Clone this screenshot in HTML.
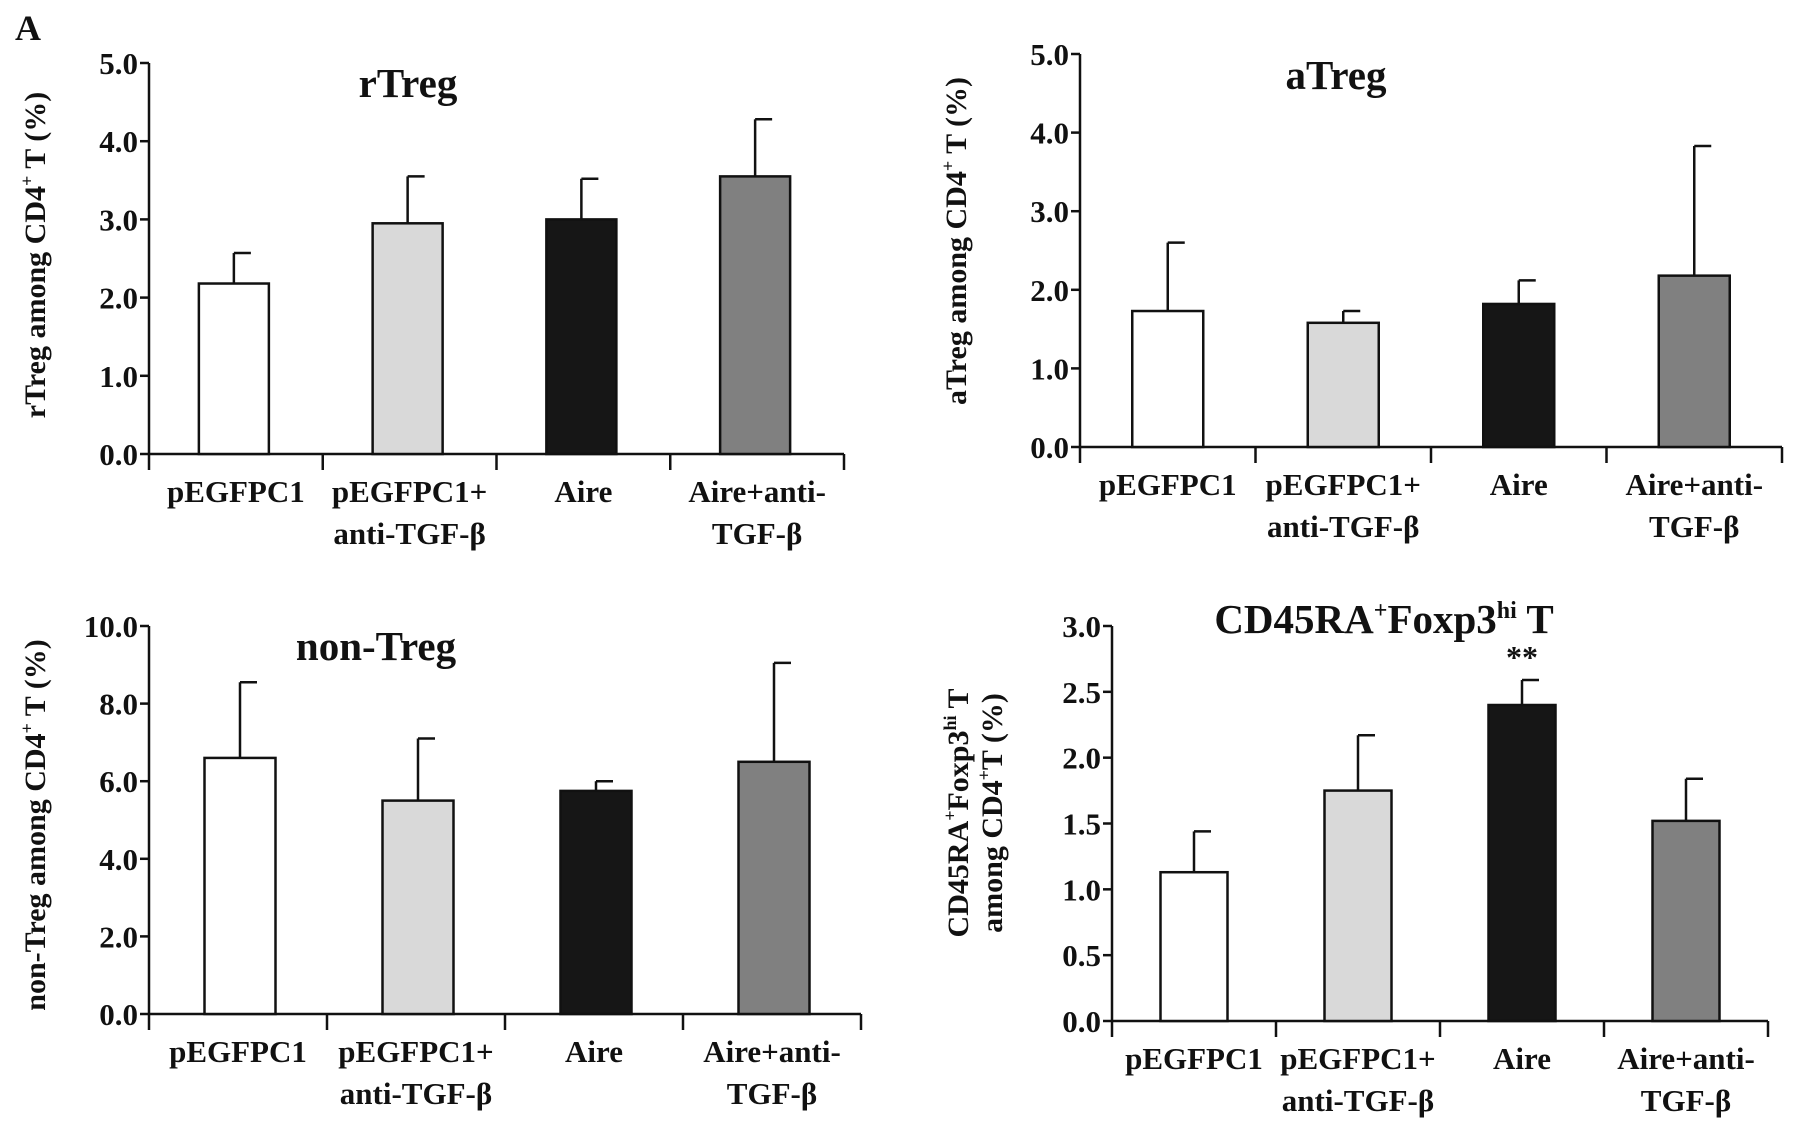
<!DOCTYPE html>
<html><head><meta charset="utf-8"><style>
body{margin:0;background:#fff}
svg{display:block}
text{font-family:"Liberation Serif",serif;font-weight:bold;fill:#111}
</style></head><body>
<svg id="fig" width="1795" height="1121" viewBox="0 0 1795 1121">
<text x="15" y="40" font-size="36">A</text>
</svg>
<script>
const categories=[["pEGFPC1"],["pEGFPC1+","anti-TGF-β"],["Aire"],["Aire+anti-","TGF-β"]];
const fills=["#ffffff","#d9d9d9","#161616","#808080"];
const rtregValues=[2.18,2.95,3.0,3.55];
const rtregErrors=[0.39,0.6,0.52,0.73];
const atregValues=[1.73,1.58,1.82,2.18];
const atregErrors=[0.87,0.15,0.3,1.65];
const nontregValues=[6.6,5.5,5.75,6.5];
const nontregErrors=[1.95,1.6,0.25,2.55];
const cd45Values=[1.13,1.75,2.4,1.52];
const cd45Errors=[0.31,0.42,0.19,0.32];
const rtregTicks=["0.0","1.0","2.0","3.0","4.0","5.0"];
const nontregTicks=["0.0","2.0","4.0","6.0","8.0","10.0"];
const cd45Ticks=["0.0","0.5","1.0","1.5","2.0","2.5","3.0"];

const svg=document.getElementById('fig');
const NS="http://www.w3.org/2000/svg";
function mk(tag,attrs,parent){const e=document.createElementNS(NS,tag);for(const k in attrs)e.setAttribute(k,attrs[k]);(parent||svg).appendChild(e);return e;}

function panel(p){
  const g=mk('g',{});
  
  
  const ticks=p.ticks.map(Number);
  const ymax=ticks[ticks.length-1];
  const y=v=>p.bottom-(v/ymax)*(p.bottom-p.top);
  const bw=(p.right-p.left)/categories.length;
  const xc=i=>p.left+bw*(i+0.5);
  const ya=mk('line',{x1:p.left,y1:p.top,x2:p.left,y2:p.bottom+1,stroke:'#111','stroke-width':2.5},g);
  
  
  p.ticks.forEach(t=>{
    mk('line',{x1:p.left-9,y1:y(+t),x2:p.left,y2:y(+t),stroke:'#111','stroke-width':2.5},g);
    const tl=mk('text',{x:p.left-11,y:y(+t)+11,'font-size':31,'text-anchor':'end'},g);
    tl.textContent=t;
    
    
  });
  const xa=mk('line',{x1:p.left,y1:p.bottom,x2:p.right,y2:p.bottom,stroke:'#111','stroke-width':2.5},g);
  
  
  for(let i=0;i<=categories.length;i++){
    mk('line',{x1:p.left+bw*i,y1:p.bottom,x2:p.left+bw*i,y2:p.bottom+16,stroke:'#111','stroke-width':2.5},g);
  }
  p.values.forEach((v,i)=>{
    const cx=xc(i)+p.shift;
    const er=mk('line',{x1:cx,y1:y(v),x2:cx,y2:y(v+p.errors[i]),stroke:'#111','stroke-width':2.5},g);
    
    
    mk('line',{x1:cx,y1:y(v+p.errors[i]),x2:cx+17,y2:y(v+p.errors[i]),stroke:'#111','stroke-width':2.5},g);
    const r=mk('rect',{x:cx-p.barW/2,y:y(v),width:p.barW,height:p.bottom-y(v),fill:fills[i],stroke:'#111','stroke-width':2.5},g);
    
    
    categories[i].forEach((ln,j)=>{
      const t=mk('text',{x:xc(i)+p.labShift,y:p.bottom+48+j*42,'font-size':31,'text-anchor':'middle'},g);
      t.textContent=ln;
      
      
    });
  });
  const ti=mk('text',{x:p.titleX,y:p.titleY,'font-size':41,'text-anchor':'middle'},g);
  ti.innerHTML=p.title;
  
  
  p.ylab.forEach((ln,j)=>{
    const yl=mk('text',{x:0,y:0,'font-size':30,'text-anchor':'middle',transform:`translate(${p.ylabX+j*34},${p.ylabY}) rotate(-90)`},g);
    yl.innerHTML=ln;
    
    
  });
  return {g,y,xc};
}
const sup=s=>`<tspan font-size="18" dy="-12">${s}</tspan><tspan dy="12">`;
panel({name:'rtreg',left:149,right:844,top:63,bottom:454,ticks:rtregTicks,values:rtregValues,errors:rtregErrors,barW:70,shift:-2,labShift:0,
  title:'rTreg',titleX:408,titleY:97,ylab:['rTreg among CD4'+sup('+')+' T (%)</tspan>'],ylabX:45,ylabY:255});
panel({name:'atreg',left:1080,right:1782,top:54,bottom:447,ticks:rtregTicks,values:atregValues,errors:atregErrors,barW:71,shift:0,labShift:0,
  title:'aTreg',titleX:1336,titleY:89,ylab:['aTreg among CD4'+sup('+')+' T  (%)</tspan>'],ylabX:966,ylabY:241});
panel({name:'nontreg',left:149,right:861,top:626,bottom:1014,ticks:nontregTicks,values:nontregValues,errors:nontregErrors,barW:71,shift:2,labShift:0,
  title:'non-Treg',titleX:376,titleY:660,ylab:['non-Treg among CD4'+sup('+')+' T (%)</tspan>'],ylabX:45,ylabY:825});
const p4=panel({name:'cd45',left:1112,right:1768,top:626,bottom:1021,ticks:cd45Ticks,values:cd45Values,errors:cd45Errors,barW:67,shift:0,labShift:0,
  title:'CD45RA<tspan font-size="24" dy="-15">+</tspan><tspan dy="15">Foxp3</tspan><tspan font-size="24" dy="-15">hi</tspan><tspan dy="15"> T</tspan>',titleX:1384,titleY:633,
  ylab:['CD45RA'+sup('+')+'Foxp3</tspan>'+sup('hi')+' T</tspan>','among CD4'+sup('+')+'T (%)</tspan>'],ylabX:968,ylabY:813});
const star=mk('text',{x:p4.xc(2),y:p4.y(cd45Values[2]+cd45Errors[2])-12,'font-size':32,'text-anchor':'middle'});
star.textContent='**';


</script>
</body></html>
